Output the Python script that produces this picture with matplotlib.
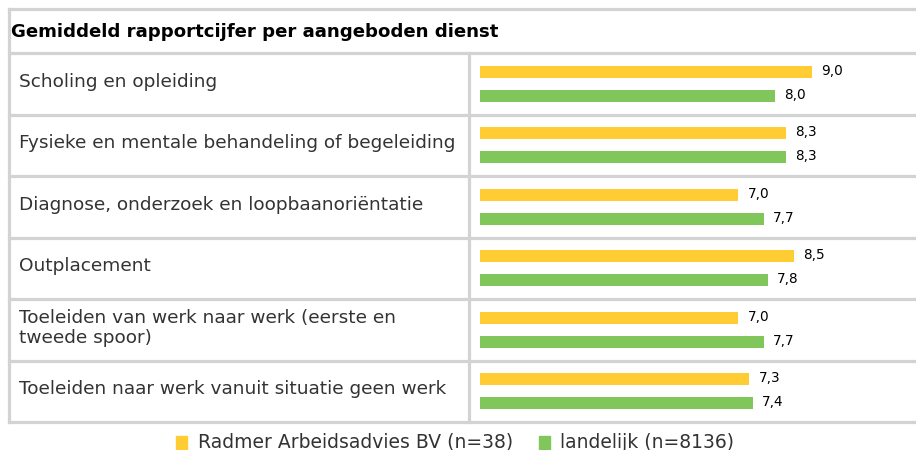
import matplotlib.pyplot as plt
import numpy as np

# Data
categories = [
    "Scholing en opleiding",
    "Fysieke en mentale behandeling of begeleiding",
    "Diagnose, onderzoek en loopbaanoriëntatie",
    "Outplacement",
    "Toeleiden van werk naar werk (eerste en\ntweede spoor)",
    "Toeleiden naar werk vanuit situatie geen werk",
]
radmer = [9.0, 8.3, 7.0, 8.5, 7.0, 7.3]
landelijk = [8.0, 8.3, 7.7, 7.8, 7.7, 7.4]
series_names = ["Radmer Arbeidsadvies BV (n=38)", "landelijk (n=8136)"]
title = "Gemiddeld rapportcijfer per aangeboden dienst"

yellow = "#FFCC33"
green = "#80C65A"
grid = "#D3D3D3"
text_col = "#333333"

W, H = 916, 450
fig = plt.figure(figsize=(W / 100, H / 100), dpi=100)

# overlay axes in pixel coordinates for the table frame and text
ov = fig.add_axes([0, 0, 1, 1])
ov.set_xlim(0, W)
ov.set_ylim(H, 0)
ov.axis("off")

top, head_bot, bot = 9, 53, 422
left, split = 9, 469
n = len(categories)
row_h = (bot - head_bot) / n

lw = 2.3
ov.plot([left, W], [top, top], color=grid, lw=lw)
for i in range(n + 1):
    y = head_bot + i * row_h
    ov.plot([left, W], [y, y], color=grid, lw=lw)
ov.plot([left, left], [top, bot], color=grid, lw=lw)
ov.plot([split, split], [head_bot, bot], color=grid, lw=lw)

ov.text(11, (top + head_bot) / 2 + 1, title, fontsize=13.1, fontweight="bold",
        color="black", va="center", ha="left")

for i, cat in enumerate(categories):
    y = head_bot + (i + 0.5) * row_h - 2
    ov.text(19, y, cat, fontsize=13.3, color=text_col, va="center", ha="left",
            linespacing=1.15)

# legend
ov.add_patch(plt.Rectangle((176, 436), 11, 13, color=yellow))
ov.text(198, 442, series_names[0], fontsize=13.5, color=text_col, va="center", ha="left")
ov.add_patch(plt.Rectangle((539, 436), 11, 13, color=green))
ov.text(560, 442, series_names[1], fontsize=13.5, color=text_col, va="center", ha="left")

# bar axes
x0 = 480
scale = 36.9  # px per unit
ax = fig.add_axes([x0 / W, 1 - bot / H, (W - x0) / W, (bot - head_bot) / H])
ax.set_xlim(0, (W - x0) / scale)
ax.set_ylim(n, 0)
ax.axis("off")

pos = np.arange(n) + 0.5
off = 12 / row_h
bh = 12 / row_h
ax.barh(pos - off, radmer, height=bh, color=yellow)
ax.barh(pos + off, landelijk, height=bh, color=green)
for p, r, l in zip(pos, radmer, landelijk):
    ax.text(r + 0.25, p - off - 0.02, f"{r:.1f}".replace(".", ","), fontsize=9.8,
            color="black", va="center", ha="left")
    ax.text(l + 0.25, p + off - 0.02, f"{l:.1f}".replace(".", ","), fontsize=9.8,
            color="black", va="center", ha="left")

fig.savefig("out.png", dpi=100)
